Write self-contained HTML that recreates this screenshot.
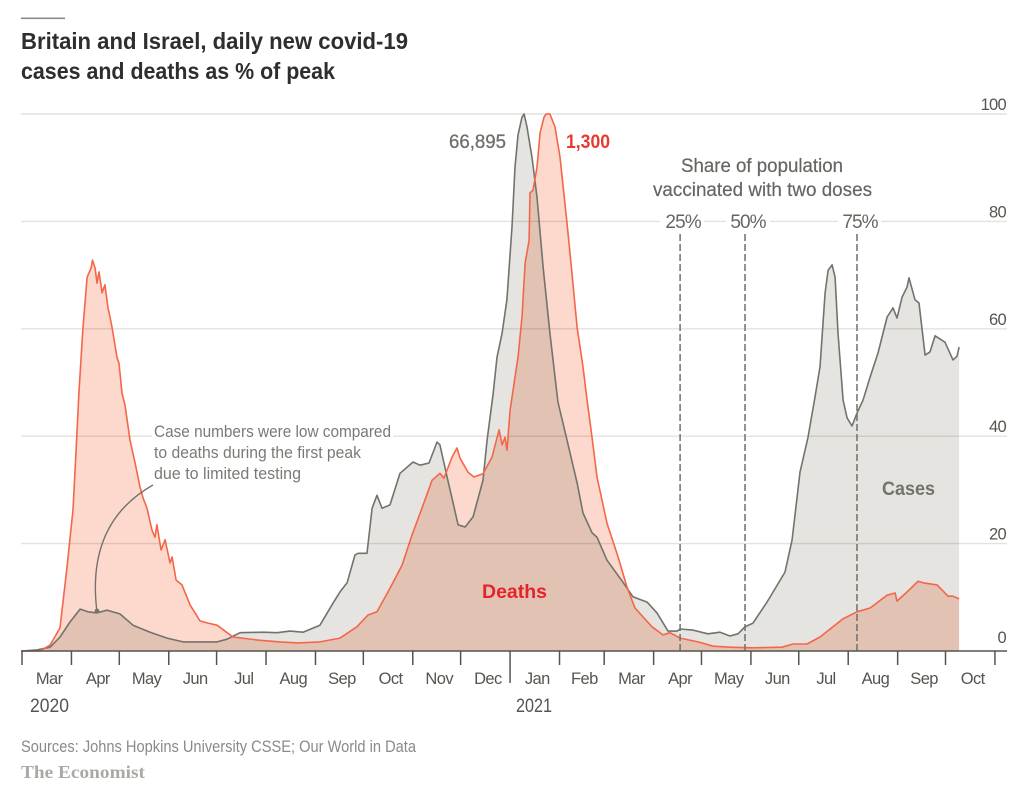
<!DOCTYPE html>
<html lang="en">
<head>
<meta charset="utf-8">
<title>Britain and Israel, daily new covid-19 cases and deaths</title>
<style>
html,body{margin:0;padding:0;background:#fff;}
svg{display:block;font-family:"Liberation Sans",sans-serif;filter:blur(0.35px);}
</style>
</head>
<body>
<svg id="chart" xmlns="http://www.w3.org/2000/svg" width="1023" height="796" viewBox="0 0 1023 796">
  <rect x="0" y="0" width="1023" height="796" fill="#ffffff"/>
  <rect x="21" y="17.5" width="44" height="1.6" fill="#8a8a86"/>
  <text x="21" y="49" font-size="23" font-weight="700" fill="#2e2e2c" textLength="387" lengthAdjust="spacingAndGlyphs">Britain and Israel, daily new covid-19</text>
  <text x="21" y="79" font-size="23" font-weight="700" fill="#2e2e2c" textLength="314" lengthAdjust="spacingAndGlyphs">cases and deaths as % of peak</text>
  <g id="grid"></g>
  <g fill="#ffffff">
    <rect x="152" y="425" width="241" height="20"/>
    <rect x="660" y="214" width="44" height="14"/>
    <rect x="726" y="214" width="44" height="14"/>
    <rect x="838" y="214" width="43" height="14"/>
  </g>
  <path id="cases-area" fill="#e5e4e0" style="mix-blend-mode:multiply"/>
  <path id="deaths-area" fill="#fcd9cc" style="mix-blend-mode:multiply"/>
  <path id="cases-line" fill="none" stroke="#72736d" stroke-width="1.6" stroke-linejoin="round"/>
  <path id="deaths-line" fill="none" stroke="#f4664a" stroke-width="1.6" stroke-linejoin="round"/>
  <g id="vaccination"></g>
  <g id="axis"></g>
  <g id="ylabels"></g>

  <path d="M97 612 C91 565 100 515 153 485" fill="none" stroke="#72736d" stroke-width="1.4"/>
  <circle cx="97" cy="611" r="2.4" fill="#72736d"/>
  <g font-size="16.5" fill="#7a7a75">
    <text x="154" y="437" textLength="237" lengthAdjust="spacingAndGlyphs">Case numbers were low compared</text>
    <text x="154" y="458" textLength="207" lengthAdjust="spacingAndGlyphs">to deaths during the first peak</text>
    <text x="154" y="479" textLength="147" lengthAdjust="spacingAndGlyphs">due to limited testing</text>
  </g>
  <text x="449" y="148" font-size="19" fill="#6f706a" stroke="#6f706a" stroke-width="0.3" textLength="57" lengthAdjust="spacingAndGlyphs">66,895</text>
  <text x="566" y="148" font-size="19" font-weight="700" fill="#e93a32" textLength="44" lengthAdjust="spacingAndGlyphs">1,300</text>
  <text x="681" y="172" font-size="19" fill="#666661" stroke="#666661" stroke-width="0.2" textLength="162" lengthAdjust="spacingAndGlyphs">Share of population</text>
  <text x="653" y="196" font-size="19" fill="#666661" stroke="#666661" stroke-width="0.2" textLength="219" lengthAdjust="spacingAndGlyphs">vaccinated with two doses</text>
  <text x="482" y="598" font-size="19.5" font-weight="700" fill="#e5232c" textLength="65" lengthAdjust="spacingAndGlyphs">Deaths</text>
  <text x="882" y="495" font-size="19.5" font-weight="700" fill="#72736d" textLength="53" lengthAdjust="spacingAndGlyphs">Cases</text>
  <text x="30" y="712" font-size="19" fill="#555550" textLength="39" lengthAdjust="spacingAndGlyphs">2020</text>
  <text x="516" y="712" font-size="19" fill="#555550" textLength="36" lengthAdjust="spacingAndGlyphs">2021</text>
  <text x="21" y="752" font-size="16.5" fill="#8a8a86" textLength="395" lengthAdjust="spacingAndGlyphs">Sources: Johns Hopkins University CSSE; Our World in Data</text>
  <text x="21" y="778" font-size="18" font-weight="700" fill="#aaaaa5" style="font-family:'Liberation Serif',serif" textLength="124" lengthAdjust="spacingAndGlyphs">The Economist</text>
</svg>
<script>
var caseDays = [0,9.4,17.6,23.8,30.1,36.4,41.4,47,53.3,61.4,69.6,80.3,90.9,101,122.3,128.5,136.7,151.1,159.9,168,176.2,186.8,195,199.4,203.8,208.8,210.7,216.3,219.5,222.6,225.7,230.7,237,245.2,249.5,255.2,260.2,262,266.5,273.4,277.8,282.8,289,291.6,295.3,297.8,301,304,307.2,309.1,311,313.5,314.8,316.6,319.8,322.9,326.7,331,336,341.7,348,351.7,357.4,360.5,366.8,376.8,383.1,391.9,398.1,405,410.7,412.6,420.7,430,437.6,443.9,448.9,453.3,458.3,467.1,478.4,482.8,487.8,492.8,497.2,500.3,503.5,505.4,507.9,509.8,511.6,514.8,517.3,520.4,523.5,527.3,531.7,536.7,542.4,546.1,548.6,551.8,554.9,556.1,559.9,562.4,566.2,569.3,572.5,578.7,583.7,586.2,587.5];
var caseValues = [0,0.2,0.7,2.6,5.4,7.8,7.3,7.1,7.6,6.9,4.8,3.5,2.4,1.7,1.7,2.2,3.4,3.5,3.4,3.7,3.5,4.8,8.9,11,12.7,17.9,18.2,18.2,26.6,29,26.6,27.2,33.1,35.2,34.6,35,38.9,38.4,32.4,23.5,23.1,25,31.8,39.3,47.7,54.7,59.2,65.4,79,90.1,96.1,99.4,100,97.6,91.8,84.5,71.5,59.2,46.4,39.3,31.3,25.7,22,21.2,16.9,12.8,10.1,9.1,7.1,3.7,3.7,4.1,3.9,3.2,3.5,2.8,3.2,4.5,5.2,9.1,14.7,20.7,33.3,39.8,47.3,52.9,66.7,70.9,71.9,69.6,59.2,46.7,43.4,41.9,44.3,46.7,51,55.5,62.2,63.9,62,65.9,67.8,69.5,65.4,64.8,55.1,55.7,58.7,57.5,54.2,54.9,56.6];
var deathDays = [0,11.3,17.6,23.8,28.2,32,33.9,35.7,38.2,40.8,43.3,44.2,45.8,47,48.3,50.2,52,53.9,55.2,56.4,59.6,60.8,62.7,64.6,67.7,70.9,74,75.9,78.4,81.5,83.4,84.6,87.2,89.7,92.8,94.1,96.6,100.3,105.3,111.6,116.6,122.3,132.3,149.2,161.8,173,186.8,199.4,210,216.9,222.6,230.7,238.3,244.5,250.8,257.1,262,264.6,269.6,272.7,274.6,279.6,283.4,289,294.7,299.1,301,302.8,304.1,306,307.9,311,313.5,315.4,317.9,318.5,320.4,322.9,324.8,327.3,328.6,331,334.2,337.3,341.7,344.2,348,351.7,354.3,357.4,360.5,366.8,373.7,379.3,384.3,395,401.9,406.3,412.6,423.9,433.3,443.9,457.7,476.5,483.4,492.2,500.3,514.8,523.5,531.7,542.4,547.4,548.6,554.9,561.8,564.9,573.7,580.6,583.7,587.5];
var deathValues = [0,0,1.1,4.3,15.6,26.3,37.4,48,60,69.6,71.3,72.8,71.3,68.5,70.6,66.7,68.2,63.9,62.2,60.3,54.6,53.6,48,45.8,39.3,35,30.5,28.5,26.6,22.5,21.2,23.5,18.8,20.7,16.4,17.5,13.2,12.3,8.6,5.6,5.2,4.8,2.6,2,1.7,1.5,1.7,2.4,4.5,6.7,7.3,11.7,16,21.6,26.6,31.8,33.1,32.2,36.1,37.8,35.9,33.3,32.4,33,36.1,41.2,38.4,39.8,37.4,44.9,48.6,54.7,62.2,72.2,76.5,85.3,85.8,90.1,96.5,99.4,100,100,97.6,92,79.7,72.2,60.3,52.9,46.7,39.7,32.4,23.8,17.5,11.9,8,4.5,3,3.4,2.4,1.7,0.9,0.7,0.6,0.7,1.3,1.3,2.6,6,7.3,8,10.4,10.8,9.3,11,13,12.7,12.3,10.2,10.2,9.7];
var monthDays = [0,31,61,92,122,153,184,214,245,275,306,337,365,396,426,457,487,518,549,579,610];
var monthLabels = ["Mar","Apr","May","Jun","Jul","Aug","Sep","Oct","Nov","Dec","Jan","Feb","Mar","Apr","May","Jun","Jul","Aug","Sep","Oct"];
var yTicks = [0,20,40,60,80,100];
var vaccinationDays = [412.6,453.3,523.5];
var vaccinationLabels = ["25%","50%","75%"];

function xScale(day){ return 22 + 1.595 * day; }
function yScale(value){ return 651 - 5.37 * value; }

var NS = "http://www.w3.org/2000/svg";
function make(tag, parent){
  var node = document.createElementNS(NS, tag);
  parent.appendChild(node);
  return node;
}
function linePath(days, values){
  var d = "";
  for (var i = 0; i < days.length; i++) {
    d += (i ? "L" : "M") + xScale(days[i]).toFixed(1) + " " + yScale(values[i]).toFixed(1);
  }
  return d;
}
function areaPath(days, values){
  return linePath(days, values) +
    "L" + xScale(days[days.length - 1]).toFixed(1) + " " + yScale(0) +
    "L" + xScale(days[0]).toFixed(1) + " " + yScale(0) + "Z";
}

document.getElementById("cases-area").setAttribute("d", areaPath(caseDays, caseValues));
document.getElementById("deaths-area").setAttribute("d", areaPath(deathDays, deathValues));
document.getElementById("cases-line").setAttribute("d", linePath(caseDays, caseValues));
document.getElementById("deaths-line").setAttribute("d", linePath(deathDays, deathValues));

var grid = document.getElementById("grid");
var ylabels = document.getElementById("ylabels");
yTicks.forEach(function(v){
  if (v > 0) {
    var g = make("line", grid);
    
    
    g.setAttribute("x1", 21);
    g.setAttribute("x2", 1007);
    g.setAttribute("y1", yScale(v));
    g.setAttribute("y2", yScale(v));
    g.setAttribute("stroke", "#e2e2e0");
    g.setAttribute("stroke-width", "1.4");
  }
  var t = make("text", ylabels);
  
  
  t.setAttribute("x", 1006);
  t.setAttribute("y", yScale(v) - (v === 0 ? 8 : 4));
  t.setAttribute("text-anchor", "end");
  t.setAttribute("font-size", "16.5");
  t.setAttribute("letter-spacing", "-0.7");
  t.setAttribute("fill", "#555550");
  t.textContent = v;
});

var axis = document.getElementById("axis");
var base = make("line", axis);


base.setAttribute("x1", 21);
base.setAttribute("x2", 1007);
base.setAttribute("y1", yScale(0));
base.setAttribute("y2", yScale(0));
base.setAttribute("stroke", "#55554f");
base.setAttribute("stroke-width", "1.5");

monthDays.forEach(function(day, i){
  var tick = make("line", axis);
  
  
  tick.setAttribute("x1", xScale(day));
  tick.setAttribute("x2", xScale(day));
  tick.setAttribute("y1", yScale(0));
  tick.setAttribute("y2", yScale(0) + (i === 10 ? 32 : 14));
  tick.setAttribute("stroke", "#55554f");
  tick.setAttribute("stroke-width", "1.5");
  if (i < monthLabels.length) {
    var lab = make("text", axis);
    
    
    lab.setAttribute("x", (xScale(day) + xScale(monthDays[i + 1])) / 2 + 2.5);
    lab.setAttribute("y", 684);
    lab.setAttribute("text-anchor", "middle");
    lab.setAttribute("font-size", "16.5");
    lab.setAttribute("letter-spacing", "-0.6");
    lab.setAttribute("fill", "#555550");
    lab.textContent = monthLabels[i];
  }
});

var vacc = document.getElementById("vaccination");
vaccinationDays.forEach(function(day, i){
  var dash = make("line", vacc);
  
  
  dash.setAttribute("x1", xScale(day));
  dash.setAttribute("x2", xScale(day));
  dash.setAttribute("y1", 234);
  dash.setAttribute("y2", yScale(0));
  dash.setAttribute("stroke", "#6f706a");
  dash.setAttribute("stroke-width", "1.5");
  dash.setAttribute("stroke-dasharray", "7 3");
  var lab = make("text", vacc);
  
  
  lab.setAttribute("x", xScale(day) + 3);
  lab.setAttribute("y", 228);
  lab.setAttribute("text-anchor", "middle");
  lab.setAttribute("font-size", "19");
  lab.setAttribute("letter-spacing", "-0.9");
  lab.setAttribute("fill", "#666661");
  lab.textContent = vaccinationLabels[i];
});
</script>
</body>
</html>
